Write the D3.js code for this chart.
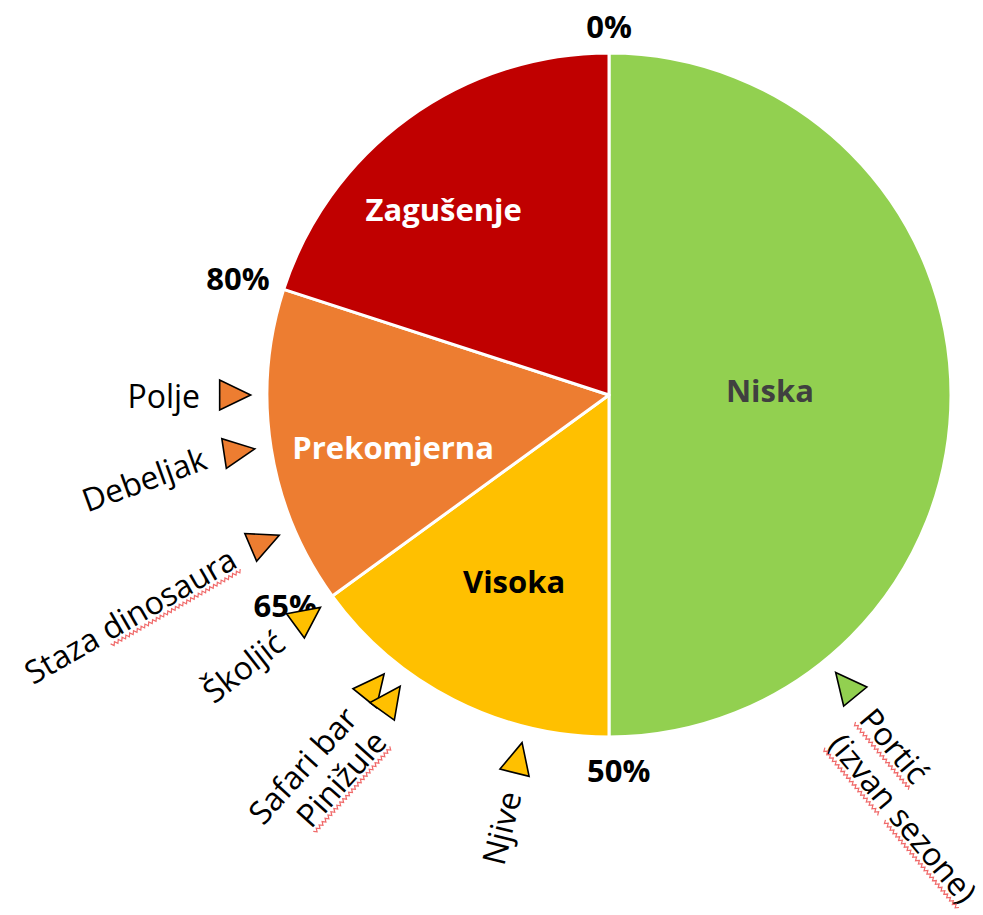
<!DOCTYPE html>
<html>
<head>
<meta charset="utf-8">
<style>
    body { margin: 0; background: #fff; }
    svg { display: block; font-family: 'Open Sans', 'Noto Sans', sans-serif; }
    .pct { font-size: 31px; font-weight: bold; fill: #000; }
    .slice-label { font-size: 31px; font-weight: bold; }
    .marker-label { font-size: 32px; fill: #000; }
    .wave { fill: none; stroke: #f06a6a; stroke-width: 1.2; }
</style>
</head>
<body>
<svg width="983" height="915"></svg>

<script src="https://d3js.org/d3.v7.min.js"></script>
<script>
    // slices (share of the circle, in %)
    const categories = ["Niska", "Visoka", "Prekomjerna", "Zagušenje"];
    const shares = [50, 15, 15, 20];
    const colors = ["#92D050", "#FFC000", "#ED7D31", "#C00000"];
    const labelColors = ["#404040", "#000000", "#ffffff", "#ffffff"];

    // boundary tick labels
    const bounds = [0, 50, 65, 80];
    const boundLabels = ["0%", "50%", "65%", "80%"];

    // locations placed around the circle (position in %)
    const places = ["Polje", "Debeljak", "Staza dinosaura", "Školjić", "Safari bar", "Pinižule", "Njive", "Portić"];
    const placeValues = [75.0, 72.6, 68.6, 64.9, 60.8, 59.9, 53.9, 39.1];

    // layout only
    const cx = 609, cy = 395, r = 342;
    const sliceLabelPos = [[88.2, 161], [207, 209], [256.5, 222], [318.4, 249]];   // [deg, radius]
    const boundLabelPos = [[0, 369], [178.5, 375], [237, 386], [287.5, 389]];
    const placeRot = [0, -20, -30, -38, -48, -48, -76, 50];
    const placeShift = [0, 0, 0, 0, -3, 11, 0, 0];   // perpendicular nudge

    let svg = d3.select("svg");

    let ang = d3.scaleLinear().domain([0, 100]).range([0, 2 * Math.PI]);
    let polar = (deg, rad) => {
        let a = deg * Math.PI / 180;
        return [cx + rad * Math.sin(a), cy - rad * Math.cos(a)];
    };

    let pie = d3.pie().sort(null).value(d => d);
    let arc = d3.arc().innerRadius(0).outerRadius(r);

    let g = svg.append("g").attr("transform", `translate(${cx},${cy})`);

    g.selectAll("path")
        .data(pie(shares))
        .join("path")
        .attr("d", arc)
        .attr("fill", (d, i) => colors[i])
        .attr("stroke", "#fff")
        .attr("stroke-width", 3)
        .attr("stroke-linejoin", "round");

    // slice names
    svg.append("g")
        .selectAll("text")
        .data(categories)
        .join("text")
        .attr("class", "slice-label")
        .attr("x", (d, i) => polar(...sliceLabelPos[i])[0])
        .attr("y", (d, i) => polar(...sliceLabelPos[i])[1])
        .attr("text-anchor", "middle")
        .attr("dominant-baseline", "central")
        .attr("fill", (d, i) => labelColors[i])
        .text(d => d);

    // boundary percentages
    svg.append("g")
        .selectAll("text")
        .data(boundLabels)
        .join("text")
        .attr("class", "pct")
        .attr("x", (d, i) => polar(...boundLabelPos[i])[0])
        .attr("y", (d, i) => polar(...boundLabelPos[i])[1])
        .attr("text-anchor", "middle")
        .attr("dominant-baseline", "central")
        .text(d => d);

    // colour of the slice a value falls in
    let cum = d3.cumsum(shares);
    let colorAt = v => colors[cum.findIndex(c => v <= c)];

    // triangle markers pointing to the centre
    let markR = 379, tH = 31, tB = 30;
    let tri = `M${-tH * 2 / 3},0 L${tH / 3},${-tB / 2} L${tH / 3},${tB / 2} Z`;

    let mk = svg.append("g")
        .selectAll("g")
        .data(places.map((p, i) => ({ name: p, v: placeValues[i], rot: placeRot[i], shift: placeShift[i] })))
        .join("g");

    mk.append("path")
        .attr("d", tri)
        .attr("transform", d => {
            let a = ang(d.v);
            let [x, y] = [cx + markR * Math.sin(a), cy - markR * Math.cos(a)];
            let deg = Math.atan2(-Math.cos(a), Math.sin(a)) * 180 / Math.PI;
            return `translate(${x},${y}) rotate(${deg})`;
        })
        .attr("fill", d => colorAt(d.v))
        .attr("stroke", "#000")
        .attr("stroke-width", 1.6);

    let labelTransform = d => {
        let a = ang(d.v);
        let rr = markR + 30;
        return `translate(${cx + rr * Math.sin(a)},${cy - rr * Math.cos(a)}) rotate(${d.rot}) translate(0,${d.shift})`;
    };

    let lbl = mk.append("text")
        .attr("class", "marker-label")
        .attr("transform", labelTransform)
        .attr("text-anchor", d => d.v < 50 ? "start" : "end")
        .attr("dominant-baseline", "central");

    lbl.each(function (d) {
        let t = d3.select(this);
        if (d.name == "Staza dinosaura") {
            t.append("tspan").text("Staza ");
            t.append("tspan").attr("class", "typo").text("dinosaura");
        } else if (d.name == "Pinižule") {
            t.append("tspan").attr("class", "typo").text(d.name);
        } else if (d.name == "Portić") {
            t.append("tspan").attr("class", "typo").text("Portić");
            let t2 = t.append("tspan").attr("x", 0).attr("dy", "1.25em");
            t2.append("tspan").attr("class", "typo").text("(izvan");
            t2.append("tspan").text(" ");
            t2.append("tspan").attr("class", "typo").text("sezone)");
        } else {
            t.text(d.name);
        }
    });

    // red wavy spell-check underline below the flagged words
    lbl.each(function (d) {
        let parent = d3.select(this.parentNode);
        d3.select(this).selectAll("tspan.typo").each(function () {
            let b = this.getBBox();
            let y0 = b.y + b.height - 4;
            let pts = [];
            for (let x = b.x, k = 0; x <= b.x + b.width; x += 2.2, k++) {
                pts.push([x, y0 + (k % 2 ? 1.6 : -1.6)]);
            }
            parent.append("path")
                .attr("class", "wave")
                .attr("transform", labelTransform(d))
                .attr("d", d3.line()(pts));
        });
    });
</script>
</body>
</html>
